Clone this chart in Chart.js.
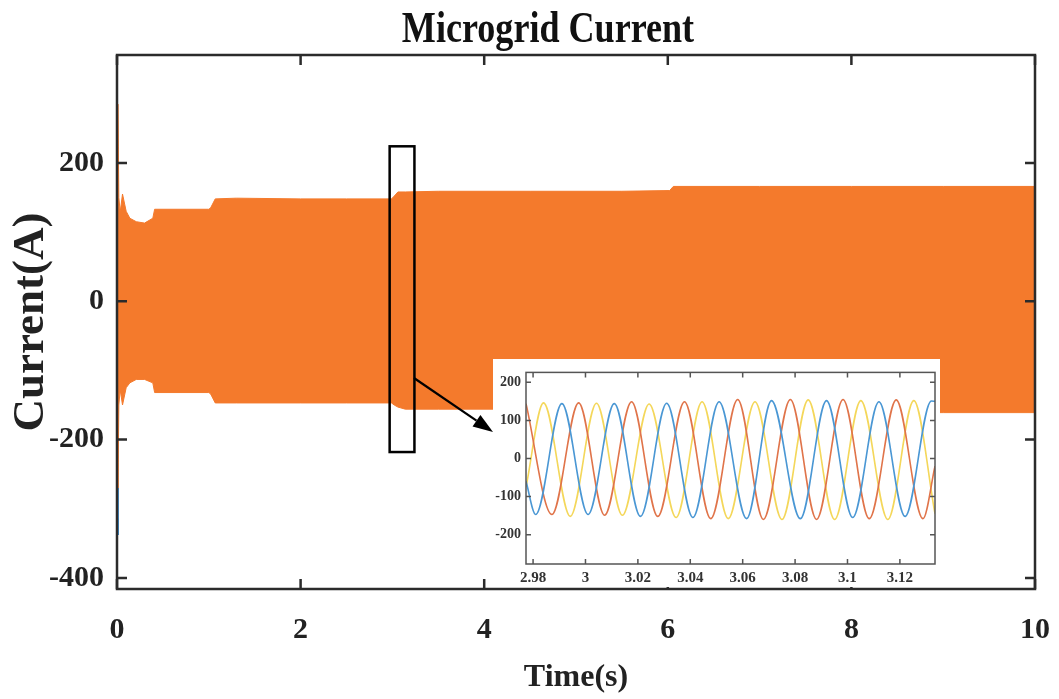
<!DOCTYPE html>
<html>
<head>
<meta charset="utf-8">
<script src="https://cdn.jsdelivr.net/npm/chart.js@4.4.1/dist/chart.umd.min.js"></script>
<style>
  html, body { margin: 0; padding: 0; background: #fff; }
  #wrap { position: relative; width: 1059px; height: 699px; }
  #mainChart { position: absolute; left: 0; top: 0; }
  #insetChart { position: absolute; left: 493px; top: 359px; background: #fff; }
</style>
</head>
<body>
<div id="wrap">
  <canvas id="mainChart" width="1059" height="699"></canvas>
  <canvas id="insetChart" width="447" height="228"></canvas>
</div>
<script>
// main plot: envelope of the three-phase current (s, A)
const envTime  = [0, 0.01, 0.02, 0.035, 0.06, 0.1, 0.14, 0.21, 0.3, 0.39, 0.41, 1.0, 1.02, 1.07, 1.3, 2.0, 2.5, 2.99, 3.02, 3.06, 3.14, 3.5, 4.5, 5.5, 6.02, 6.06, 7, 8, 9, 10];
const envUpper = [200, 285, 150, 129, 155, 130, 120, 115, 113, 120, 133, 133, 135, 148, 149, 148, 148, 148, 152, 158, 158, 159, 159, 159, 160, 166, 166, 166, 166, 166];
const envLower = [-200, -273, -150, -128, -150, -125, -118, -113, -113, -118, -132, -132, -134, -147, -147, -147, -147, -147, -150, -153, -156, -156, -156, -156, -157, -161, -161, -161, -161, -161];
// phase-a start-up spike that shows under the orange trace
const spikeTime = [0.01, 0.011];
const spikeVal  = [-270, -338];

const xTicks = [0, 2, 4, 6, 8, 10];
const yTicks = [-400, -200, 0, 200];

// zoom marker and arrow (data units)
const zoomBoxX = [2.97, 3.24];
const zoomBoxY = [-218, 224];
const arrowFrom = [3.235, -111];
const arrowTo   = [4.096, -189];

// inset: peaks/troughs
const blueTime = [2.9773, 2.981, 2.991, 3.001, 3.011, 3.021, 3.031, 3.041, 3.051, 3.0615, 3.071, 3.082, 3.092, 3.102, 3.112, 3.122, 3.132, 3.1334];
const blueVal  = [-60, -147, 144, -147, 144, -152, 145, -155, 149, -158, 152, -158, 152, -155, 149, -152, 151, 150];
const redTime  = [2.9773, 2.9872, 2.9974, 3.0073, 3.0176, 3.0276, 3.0378, 3.0478, 3.0581, 3.0679, 3.0782, 3.0882, 3.0983, 3.1083, 3.1186, 3.1288, 3.1334];
const redVal   = [144, -147, 146, -149, 149, -152, 149, -158, 155, -160, 155, -160, 155, -158, 154, -158, -20];
const yellowTime = [2.9773, 2.984, 2.9942, 3.0042, 3.0141, 3.0243, 3.0346, 3.0445, 3.0545, 3.0647, 3.075, 3.085, 3.0951, 3.1051, 3.1154, 3.1253, 3.1334];
const yellowVal  = [-75, 146, -152, 145, -149, 143, -155, 149, -158, 149, -160, 154, -160, 152, -160, 152, -145];

const insetXTicks = [2.98, 3, 3.02, 3.04, 3.06, 3.08, 3.1, 3.12];
const insetYTicks = [-200, -100, 0, 100, 200];

const TITLE = 'Microgrid Current';
const SERIF = "'Liberation Serif', 'Times New Roman', serif";
const ORANGE = '#f47a2c';

const pts = (xs, ys) => xs.map((t, i) => ({ x: t, y: ys[i] }));

// keep the plot box fixed: no extra room for the end tick labels
const fitX = h => s => { s.height = h; s.paddingLeft = 0; s.paddingRight = 0; };

// MATLAB-style box with inward ticks
const framePlugin = {
    id: 'frame',
    afterDatasetsDraw(chart, args, opts) {
        const { ctx, chartArea: a, scales: { x, y } } = chart;
        ctx.save();
        ctx.strokeStyle = opts.color;
        ctx.lineWidth = opts.width;
        ctx.beginPath();
        x.ticks.forEach(t => {
            const px = x.getPixelForValue(t.value);
            ctx.moveTo(px, a.bottom); ctx.lineTo(px, a.bottom - opts.tick);
            ctx.moveTo(px, a.top); ctx.lineTo(px, a.top + opts.tick);
        });
        y.ticks.forEach(t => {
            const py = y.getPixelForValue(t.value);
            ctx.moveTo(a.left, py); ctx.lineTo(a.left + opts.tick, py);
            ctx.moveTo(a.right, py); ctx.lineTo(a.right - opts.tick, py);
        });
        ctx.stroke();
        ctx.strokeRect(a.left, a.top, a.right - a.left, a.bottom - a.top);
        ctx.restore();
    }
};

// the figure's title is set in a narrow bold serif; squeeze it horizontally
const squeezedTitle = {
    id: 'squeezedTitle',
    afterDraw(chart) {
        const ctx = chart.ctx;
        ctx.save();
        ctx.font = `bold 44px ${SERIF}`;
        ctx.fillStyle = '#111';
        ctx.textAlign = 'center';
        ctx.textBaseline = 'alphabetic';
        ctx.translate(548, 42);
        ctx.scale(0.82, 1);
        ctx.fillText(TITLE, 0, 0);
        ctx.restore();
    }
};

const zoomMarkPlugin = {
    id: 'zoomMark',
    afterDatasetsDraw(chart) {
        const { ctx, scales: { x, y } } = chart;
        const x0 = x.getPixelForValue(zoomBoxX[0]), x1 = x.getPixelForValue(zoomBoxX[1]);
        const y0 = y.getPixelForValue(zoomBoxY[1]), y1 = y.getPixelForValue(zoomBoxY[0]);
        ctx.save();
        ctx.strokeStyle = '#000';
        ctx.lineWidth = 2.5;
        ctx.strokeRect(x0, y0, x1 - x0, y1 - y0);

        const ax = x.getPixelForValue(arrowFrom[0]), ay = y.getPixelForValue(arrowFrom[1]);
        const bx = x.getPixelForValue(arrowTo[0]), by = y.getPixelForValue(arrowTo[1]);
        const ang = Math.atan2(by - ay, bx - ax);
        const head = 20, half = 7;
        ctx.lineWidth = 2.2;
        ctx.beginPath();
        ctx.moveTo(ax, ay);
        ctx.lineTo(bx - head * Math.cos(ang), by - head * Math.sin(ang));
        ctx.stroke();
        ctx.fillStyle = '#000';
        ctx.beginPath();
        ctx.moveTo(bx, by);
        ctx.lineTo(bx - head * Math.cos(ang) + half * Math.sin(ang), by - head * Math.sin(ang) - half * Math.cos(ang));
        ctx.lineTo(bx - head * Math.cos(ang) - half * Math.sin(ang), by - head * Math.sin(ang) + half * Math.cos(ang));
        ctx.closePath();
        ctx.fill();
        ctx.restore();
    }
};

new Chart(document.getElementById('mainChart'), {
    type: 'line',
    data: {
        datasets: [
            {
                data: pts(spikeTime, spikeVal),
                borderColor: '#3d8fd1', borderWidth: 2, pointRadius: 0, fill: false
            },
            {
                data: pts(envTime, envUpper),
                borderColor: ORANGE, borderWidth: 1, pointRadius: 0,
                backgroundColor: ORANGE, fill: '+1'
            },
            {
                data: pts(envTime, envLower),
                borderColor: ORANGE, borderWidth: 1, pointRadius: 0, fill: false
            }
        ]
    },
    options: {
        responsive: false,
        animation: false,
        layout: { padding: { top: 55, right: 24, bottom: 0, left: 0 } },
        scales: {
            x: {
                type: 'linear', min: 0, max: 10,
                afterBuildTicks: s => { s.ticks = xTicks.map(v => ({ value: v })); },
                afterFit: fitX(110),
                grid: { display: false, drawTicks: false },
                border: { display: false },
                ticks: {
                    padding: 23, color: '#222', maxRotation: 0,
                    font: { family: SERIF, size: 30, weight: 'bold' },
                    callback: v => String(v)
                },
                title: {
                    display: true, text: 'Time(s)', color: '#222',
                    font: { family: SERIF, size: 32, weight: 'bold' },
                    padding: { top: 0, bottom: 2 }
                }
            },
            y: {
                type: 'linear', min: -416, max: 356,
                afterBuildTicks: s => { s.ticks = yTicks.map(v => ({ value: v })); },
                afterFit: s => { s.width = 117; },
                grid: { display: false, drawTicks: false },
                border: { display: false },
                ticks: {
                    padding: 13, color: '#222',
                    font: { family: SERIF, size: 30, weight: 'bold' },
                    callback: v => String(v)
                },
                title: {
                    display: true, text: 'Current(A)', color: '#222',
                    font: { family: SERIF, size: 45, weight: 'bold' },
                    padding: { top: 4, bottom: 0 }
                }
            }
        },
        plugins: {
            legend: { display: false },
            tooltip: { enabled: false },
            title: { display: false },
            frame: { color: '#2b2b2b', width: 2.5, tick: 10 }
        }
    },
    plugins: [framePlugin, zoomMarkPlugin, squeezedTitle]
});

const phase = (xs, ys, color) => ({
    data: pts(xs, ys),
    borderColor: color, borderWidth: 1.6, pointRadius: 0,
    cubicInterpolationMode: 'monotone', fill: false
});

new Chart(document.getElementById('insetChart'), {
    type: 'line',
    data: {
        datasets: [
            phase(blueTime, blueVal, '#4a97d4'),
            phase(redTime, redVal, '#e0744a'),
            phase(yellowTime, yellowVal, '#f4d75a')
        ]
    },
    options: {
        responsive: false,
        animation: false,
        layout: { padding: { top: 9, right: 5, bottom: 0, left: 0 } },
        scales: {
            x: {
                type: 'linear', min: 2.9773, max: 3.1334,
                afterBuildTicks: s => { s.ticks = insetXTicks.map(v => ({ value: v })); },
                afterFit: fitX(23),
                grid: { display: false, drawTicks: false },
                border: { display: false },
                ticks: {
                    padding: 5, color: '#333', maxRotation: 0, autoSkip: false,
                    font: { family: SERIF, size: 15, weight: 'bold' },
                    callback: v => String(+v.toFixed(2))
                }
            },
            y: {
                type: 'linear', min: -277, max: 226,
                afterBuildTicks: s => { s.ticks = insetYTicks.map(v => ({ value: v })); },
                afterFit: s => { s.width = 33; },
                grid: { display: false, drawTicks: false },
                border: { display: false },
                ticks: {
                    padding: 5, color: '#333',
                    font: { family: SERIF, size: 14, weight: 'bold' },
                    callback: v => String(v)
                }
            }
        },
        plugins: {
            legend: { display: false },
            tooltip: { enabled: false },
            frame: { color: '#555', width: 1.5, tick: 5 }
        }
    },
    plugins: [framePlugin]
});
</script>
</body>
</html>
